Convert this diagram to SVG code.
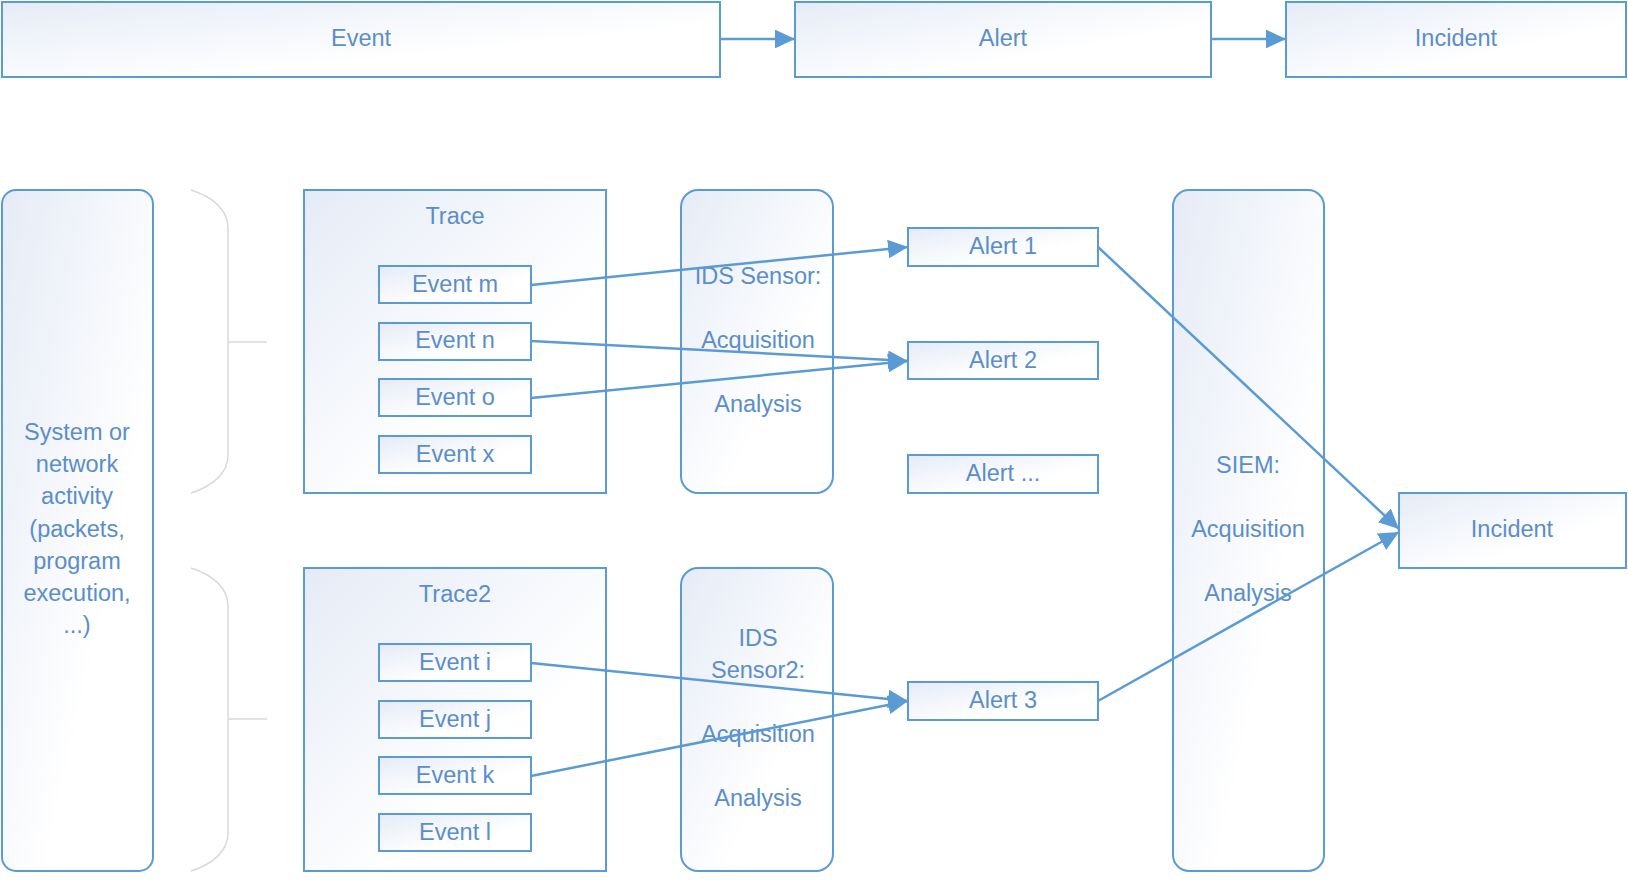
<svg xmlns="http://www.w3.org/2000/svg" width="1628" height="885" viewBox="0 0 1628 885">
<style>
.box{fill:url(#g);stroke:#5B9BD5;stroke-width:2}
.t{font-family:"Liberation Sans",Arial,sans-serif;font-size:23.5px;fill:#5B8EC9;text-anchor:middle;dominant-baseline:central}
.brace{fill:none;stroke:#d9d9d9;stroke-width:1.5}
.c{fill:none;stroke:#5B9BD5;stroke-width:2.5;marker-end:url(#ah)}
</style>
<defs>
<linearGradient id="g" x1="0" y1="0" x2="1" y2="1">
<stop offset="0" stop-color="#e5ebf6"/>
<stop offset="0.65" stop-color="#ffffff"/>
<stop offset="1" stop-color="#ffffff"/>
</linearGradient>
<marker id="ah" markerWidth="8" markerHeight="7.5" refX="8" refY="3.75" orient="auto" markerUnits="strokeWidth">
<path d="M0,0 L8,3.75 L0,7.5 z" fill="#5B9BD5"/>
</marker>
</defs>
<rect width="1628" height="885" fill="#ffffff"/>

<g id="top-event"><rect class="box" x="2" y="2" width="718" height="75"/><text class="t" x="361" y="38">Event</text></g>
<g id="top-alert"><rect class="box" x="795" y="2" width="416" height="75"/><text class="t" x="1003" y="38">Alert</text></g>
<g id="top-incident"><rect class="box" x="1286" y="2" width="340" height="75"/><text class="t" x="1456" y="38">Incident</text></g>

<g id="system"><rect class="box" x="2" y="190" width="151" height="681" rx="14"/>
<text class="t" x="77" y="432">System or</text>
<text class="t" x="77" y="464">network</text>
<text class="t" x="77" y="496">activity</text>
<text class="t" x="77" y="529">(packets,</text>
<text class="t" x="77" y="561">program</text>
<text class="t" x="77" y="593">execution,</text>
<text class="t" x="77" y="625">...)</text>
</g>

<g id="brace1"><path class="brace" d="M191,190 C213,197 228,210 228,228 L228,455 C228,473 213,486 191,493 M228,342 L267,342"/></g>
<g id="brace2"><path class="brace" d="M191,568 C213,575 228,588 228,606 L228,833 C228,851 213,864 191,871 M228,719 L267,719"/></g>

<g id="trace"><rect class="box" x="304" y="190" width="302" height="303"/><text class="t" x="455" y="216">Trace</text></g>
<g id="event-m"><rect class="box" x="379" y="266" width="152" height="37"/><text class="t" x="455" y="284">Event m</text></g>
<g id="event-n"><rect class="box" x="379" y="323" width="152" height="37"/><text class="t" x="455" y="340">Event n</text></g>
<g id="event-o"><rect class="box" x="379" y="379" width="152" height="37"/><text class="t" x="455" y="397">Event o</text></g>
<g id="event-x"><rect class="box" x="379" y="436" width="152" height="37"/><text class="t" x="455" y="454">Event x</text></g>

<g id="trace2"><rect class="box" x="304" y="568" width="302" height="303"/><text class="t" x="455" y="594">Trace2</text></g>
<g id="event-i"><rect class="box" x="379" y="644" width="152" height="37"/><text class="t" x="455" y="662">Event i</text></g>
<g id="event-j"><rect class="box" x="379" y="701" width="152" height="37"/><text class="t" x="455" y="719">Event j</text></g>
<g id="event-k"><rect class="box" x="379" y="757" width="152" height="37"/><text class="t" x="455" y="775">Event k</text></g>
<g id="event-l"><rect class="box" x="379" y="814" width="152" height="37"/><text class="t" x="455" y="832">Event l</text></g>

<g id="ids1"><rect class="box" x="681" y="190" width="152" height="303" rx="17"/>
<text class="t" x="758" y="276">IDS Sensor:</text>
<text class="t" x="758" y="340">Acquisition</text>
<text class="t" x="758" y="404">Analysis</text></g>
<g id="ids2"><rect class="box" x="681" y="568" width="152" height="303" rx="17"/>
<text class="t" x="758" y="638">IDS</text>
<text class="t" x="758" y="670">Sensor2:</text>
<text class="t" x="758" y="734">Acquisition</text>
<text class="t" x="758" y="798">Analysis</text></g>

<g id="alert1"><rect class="box" x="908" y="228" width="190" height="38"/><text class="t" x="1003" y="246">Alert 1</text></g>
<g id="alert2"><rect class="box" x="908" y="342" width="190" height="37"/><text class="t" x="1003" y="360">Alert 2</text></g>
<g id="alert-more"><rect class="box" x="908" y="455" width="190" height="38"/><text class="t" x="1003" y="473">Alert ...</text></g>
<g id="alert3"><rect class="box" x="908" y="682" width="190" height="38"/><text class="t" x="1003" y="700">Alert 3</text></g>

<g id="siem"><rect class="box" x="1173" y="190" width="151" height="681" rx="16"/>
<text class="t" x="1248" y="465">SIEM:</text>
<text class="t" x="1248" y="529">Acquisition</text>
<text class="t" x="1248" y="593">Analysis</text></g>

<g id="incident"><rect class="box" x="1399" y="493" width="227" height="75"/><text class="t" x="1512" y="529">Incident</text></g>

<g id="connectors">
<line class="c" x1="720" y1="39" x2="795" y2="39"/>
<line class="c" x1="1211" y1="39" x2="1286" y2="39"/>
<line class="c" x1="531" y1="285" x2="908" y2="247"/>
<line class="c" x1="531" y1="341" x2="908" y2="361"/>
<line class="c" x1="531" y1="398" x2="908" y2="361"/>
<line class="c" x1="531" y1="663" x2="908" y2="701"/>
<line class="c" x1="531" y1="776" x2="908" y2="701"/>
<line class="c" x1="1098" y1="247" x2="1399" y2="529"/>
<line class="c" x1="1098" y1="701" x2="1399" y2="532"/>
</g>
</svg>
